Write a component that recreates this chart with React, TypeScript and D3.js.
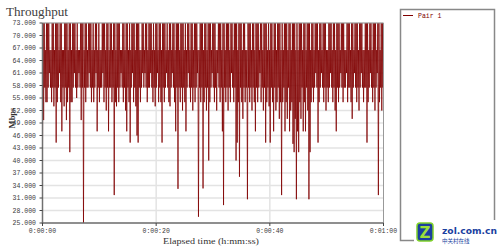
import React from "react";
import * as d3 from "d3";

// Throughput samples (Mbps), one every 0.1 s, grouped by 3-second segments
const seg0 = [43, 73, 49.7, 73, 57.5, 66.5, 54, 73, 54, 73, 57.5, 73, 61, 66.5, 57.5, 66.5, 54, 73, 57.5, 73, 53, 66.5, 57.5, 73, 44.3, 73, 54, 73, 57.5, 66.5, 61, 73, 54, 73, 47, 66.5, 57.5, 66.5, 53, 73, 57.5, 73, 49.7, 73, 54, 66.5, 57.5, 73, 42, 73, 54, 66.5, 54, 73, 57.5, 73, 61, 73, 57.5, 66.5];
const seg1 = [55, 73, 57.5, 66.5, 61, 66.5, 57.5, 73, 49.7, 73, 57.5, 73, 25, 66.5, 57.5, 73, 54, 73, 57.5, 66.5, 57.5, 73, 61, 73, 57.5, 73, 54, 66.5, 57.5, 73, 54, 66.5, 57.5, 73, 61, 73, 47, 66.5, 57.5, 73, 54, 66.5, 57.5, 66.5, 57.5, 73, 61, 73, 54, 73, 57.5, 66.5, 52, 73, 57.5, 73, 47, 66.5, 57.5, 73];
const seg2 = [57.5, 73, 54, 66.5, 57.5, 73, 31.7, 73, 54, 66.5, 53, 73, 57.5, 73, 54, 73, 57.5, 66.5, 61, 66.5, 57.5, 73, 54, 73, 57.5, 66.5, 52, 73, 47, 73, 57.5, 66.5, 54, 73, 44.3, 66.5, 57.5, 73, 61, 73, 54, 73, 57.5, 66.5, 53, 73, 46, 73, 44.3, 73, 57.5, 66.5, 54, 66.5, 57.5, 73, 61, 73, 57.5, 66.5];
const seg3 = [61, 73, 57.5, 73, 54, 66.5, 57.5, 73, 57.5, 73, 61, 73, 57.5, 66.5, 54, 73, 57.5, 66.5, 53, 73, 57.5, 73, 61, 66.5, 54, 73, 57.5, 73, 54, 66.5, 44.3, 73, 57.5, 73, 54, 73, 57.5, 66.5, 61, 73, 57.5, 66.5, 54, 73, 53, 73, 57.5, 66.5, 61, 73, 57.5, 73, 54, 66.5, 47, 73, 57.5, 73, 33.2, 73];
const seg4 = [57.5, 66.5, 54, 73, 57.5, 73, 52, 73, 57.5, 66.5, 54, 73, 47, 66.5, 57.5, 73, 61, 73, 57.5, 66.5, 54, 73, 57.5, 73, 52, 66.5, 57.5, 73, 54, 73, 57.5, 73, 61, 66.5, 26.5, 66.5, 57.5, 73, 54, 73, 57.5, 73, 33.3, 66.5, 54, 73, 57.5, 73, 52, 66.5, 57.5, 73, 40, 73, 54, 73, 57.5, 66.5, 61, 73];
const seg5 = [57.5, 73, 54, 73, 57.5, 66.5, 52, 66.5, 61, 73, 57.5, 73, 54, 73, 57.5, 66.5, 47, 73, 29.3, 73, 57.5, 66.5, 54, 73, 57.5, 73, 52, 73, 57.5, 66.5, 54, 73, 61, 73, 57.5, 66.5, 54, 73, 57.5, 73, 40, 73, 44.3, 66.5, 54, 73, 36.1, 73, 57.5, 73, 54, 66.5, 50, 73, 57.5, 73, 54, 66.5, 57.5, 66.5];
const seg6 = [30.7, 73, 57.5, 73, 54, 73, 57.5, 66.5, 52, 73, 57.5, 73, 54, 66.5, 47, 73, 57.5, 73, 54, 73, 57.5, 66.5, 61, 73, 54, 73, 57.5, 66.5, 52, 73, 57.5, 73, 44.3, 73, 54, 66.5, 57.5, 73, 53, 66.5, 44.3, 73, 57.5, 73, 54, 66.5, 47, 73, 57.5, 73, 52, 66.5, 54, 73, 57.5, 73, 50, 73, 54, 66.5];
const seg7 = [31.7, 73, 54, 66.5, 57.5, 73, 47, 73, 54, 73, 50, 66.5, 57.5, 73, 47, 73, 52, 66.5, 54, 73, 44, 73, 42, 73, 50, 66.5, 30.7, 73, 47, 66.5, 42, 73, 54, 73, 50, 73, 57.5, 66.5, 47, 73, 54, 73, 47, 66.5, 57.5, 73, 52, 73, 30.7, 73, 42, 66.5, 54, 73, 57.5, 73, 54, 66.5, 57.5, 73];
const seg8 = [61, 73, 57.5, 73, 44.3, 66.5, 54, 73, 57.5, 73, 61, 66.5, 57.5, 73, 54, 73, 57.5, 73, 52, 66.5, 57.5, 66.5, 54, 73, 57.5, 73, 61, 73, 57.5, 66.5, 54, 73, 57.5, 73, 52, 66.5, 47, 73, 57.5, 73, 54, 73, 57.5, 66.5, 61, 73, 57.5, 73, 54, 73, 57.5, 66.5, 57.5, 66.5, 61, 73, 54, 73, 57.5, 73];
const seg9 = [57.5, 66.5, 54, 73, 50, 73, 57.5, 66.5, 61, 73, 57.5, 73, 54, 73, 57.5, 66.5, 52, 73, 57.5, 73, 61, 73, 57.5, 66.5, 54, 66.5, 57.5, 73, 57.5, 73, 44.3, 73, 54, 66.5, 57.5, 73, 61, 73, 57.5, 66.5, 54, 73, 57.5, 73, 52, 73, 57.5, 66.5, 61, 73, 31.7, 73, 54, 66.5, 57.5, 73, 52, 73, 57.5, 73];
const pair1 = [...seg0, ...seg1, ...seg2, ...seg3, ...seg4, ...seg5, ...seg6, ...seg7, ...seg8, ...seg9];

const yTicks = [25, 28, 31, 34, 37, 40, 43, 46, 49, 52, 55, 58, 61, 64, 67, 70, 73];
const xTicks = [0, 20, 40, 60];
const xTickLabels = ["0:00:00", "0:00:20", "0:00:40", "0:01:00"];
const seriesNames = ["Pair 1"];

const W = 500, H = 250;
const L = 42.5, R = 383.5, T = 23, B = 223;
const RED = "#800000";

export default function App() {
  const x = d3.scaleLinear().domain([0, 60]).range([L, R]);
  const y = d3.scaleLinear().domain([25, 73]).range([B, T]);
  const step = 60 / (pair1.length - 1);
  const line = d3.line<number>().x((_, i) => x(i * step)).y((d) => y(d));
  const mono = "'Liberation Mono', 'DejaVu Sans Mono', monospace";
  const serif = "'Liberation Serif', 'DejaVu Serif', serif";
  return (
    <svg width={W} height={H} style={{ position: "absolute", left: 0, top: 0, background: "#fff" }}>
      <defs>
        <clipPath id="plot">
          <rect x={L} y={T} width={R - L} height={B - T} />
        </clipPath>
      </defs>
      <rect x={0} y={0} width={W} height={H} fill="#fff" />
      <text x={6} y={16} fontFamily={serif} fontSize={11.5} fill="#404040" textLength={62} lengthAdjust="spacingAndGlyphs">Throughput</text>
      {/* grid */}
      {yTicks.map((t) => (
        <line key={"gy" + t} x1={L} x2={R} y1={y(t)} y2={y(t)} stroke="#e3e3e3" strokeWidth={1.5} />
      ))}
      {xTicks.slice(1, -1).map((t) => (
        <line key={"gx" + t} x1={x(t)} x2={x(t)} y1={T} y2={B} stroke="#e3e3e3" strokeWidth={1.5} />
      ))}
      {/* series */}
      <path d={line(pair1) || ""} fill="none" stroke={RED} strokeWidth={0.8} clipPath="url(#plot)" />
      {/* frame */}
      <line x1={L} x2={R} y1={T} y2={T} stroke="#999" strokeWidth={1} />
      <line x1={R} x2={R} y1={T} y2={B} stroke="#999" strokeWidth={1} />
      <line x1={L} x2={L} y1={T} y2={B + 1} stroke="#707070" strokeWidth={1.5} />
      <line x1={L} x2={R} y1={B} y2={B} stroke="#707070" strokeWidth={1.5} />
      {/* y axis */}
      {yTicks.map((t) => (
        <g key={"yt" + t}>
          <line x1={L - 3} x2={L} y1={y(t)} y2={y(t)} stroke="#444" strokeWidth={1} />
          <text x={36} y={y(t)} dy="0.35em" textAnchor="end" fontFamily={mono} fontSize={6.5} fill="#3a3a3a">
            {t.toFixed(3)}
          </text>
        </g>
      ))}
      {/* x axis */}
      {xTicks.map((t, i) => (
        <g key={"xt" + t}>
          <line x1={x(t)} x2={x(t)} y1={B} y2={B + 3} stroke="#444" strokeWidth={1} />
          <text x={x(t)} y={233} textAnchor="middle" fontFamily={mono} fontSize={6.5} fill="#3a3a3a">
            {xTickLabels[i]}
          </text>
        </g>
      ))}
      <text x={211} y={244} textAnchor="middle" fontFamily={serif} fontSize={8.5} fill="#333" textLength={96} lengthAdjust="spacingAndGlyphs">
        Elapsed time (h:mm:ss)
      </text>
      <text transform="translate(15,118) rotate(-90)" textAnchor="middle" fontFamily={serif} fontSize={8.5} fontWeight="bold" fill="#333">
        Mbps
      </text>
      {/* legend */}
      <rect x={400.5} y={9.5} width={94} height={231} fill="#fff" stroke="#888" strokeWidth={1.5} />
      {seriesNames.map((s, i) => (
        <g key={s}>
          <line x1={403} x2={413} y1={15.5 + i * 10} y2={15.5 + i * 10} stroke={RED} strokeWidth={1} />
          <text x={418} y={15.5 + i * 10} dy="0.35em" fontFamily={mono} fontSize={6.5} fill={RED}>{s}</text>
        </g>
      ))}
      {/* watermark */}
      <rect x={414} y={220} width={86} height={30} fill="#fff" />
      <rect x={417} y={223} width={16} height={18} rx={3} fill="#1a3fa0" stroke="#7fd12a" strokeWidth={1.5} />
      <text x={425} y={238} textAnchor="middle" fontFamily="'DejaVu Sans', sans-serif" fontWeight="bold" fontSize={15} fill="#9be03a">Z</text>
      <text x={442} y={234} fontFamily="'DejaVu Sans', sans-serif" fontWeight="bold" fontSize={9.5} fill="#1a3fa0" textLength={55} lengthAdjust="spacingAndGlyphs">zol.com.cn</text>
      <text x={442} y={243} fontFamily="'Noto Sans CJK SC', sans-serif" fontSize={5.5} fill="#1a3fa0">中关村在线</text>
    </svg>
  );
}
